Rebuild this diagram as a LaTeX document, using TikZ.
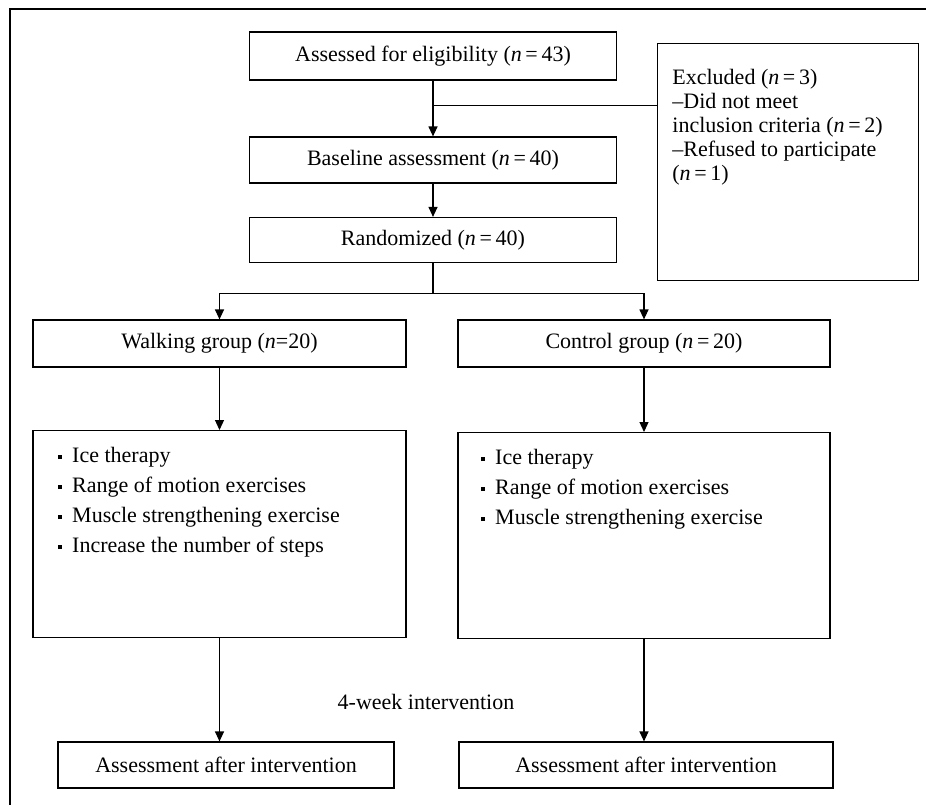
\documentclass[tikz,border=0pt]{standalone}
\usepackage{fontspec}
\setmainfont{Liberation Serif}
\usetikzlibrary{arrows.meta,calc}
\newcommand{\sqbul}{\raisebox{0.35ex}{\rule{2.2pt}{2.2pt}}\hspace{5pt}}
\begin{document}
\begin{tikzpicture}[x=0.5pt,y=-0.5pt,
	box/.style={draw,line width=0.6pt,inner sep=0pt},
	txt/.style={font=\fontsize{11}{12}\selectfont},
	lst/.style={font=\fontsize{11}{15}\selectfont,align=left,anchor=north west,inner sep=0pt},
	arr/.style={line width=0.6pt,-{Triangle[length=5pt,width=4.5pt]}},
	con/.style={line width=0.6pt}]
	\useasboundingbox (0,0) rectangle (926,805);
	\draw[con] (926,9) -- (10,9) -- (10,805);
	% top column
	\node[box,txt,minimum width=183.5pt,minimum height=24pt] (assess) at (433,56) {Assessed for eligibility (\textit{n}\,=\,43)};
	\node[box,txt,minimum width=183.5pt,minimum height=23pt] (base) at (433,160) {Baseline assessment (\textit{n}\,=\,40)};
	\node[box,txt,minimum width=183.5pt,minimum height=22.5pt] (rand) at (433,240) {Randomized (\textit{n}\,=\,40)};
	\node[box,minimum width=130.5pt,minimum height=118.5pt,anchor=north west] (excl) at (657,43) {};
	\node[txt,align=left,anchor=north west,inner sep=0pt] (excltxt) at ([shift={(15,26)}]excl.north west)
		{Excluded (\textit{n}\,=\,3)\\--Did not meet\\inclusion criteria (\textit{n}\,=\,2)\\--Refused to participate\\(\textit{n}\,=\,1)};
	\draw[arr] (assess) -- (base);
	\coordinate (br) at ($(assess.south)!0.44!(base.north)$);
	\draw[con] (br) -- (br -| excl.west);
	\draw[arr] (base) -- (rand);
	% groups
	\node[box,txt,minimum width=186.5pt,minimum height=23.5pt] (walk) at (219.5,343.5) {Walking group (\textit{n}=20)};
	\node[box,txt,minimum width=186pt,minimum height=23.5pt] (ctrl) at (644,343.5) {Control group (\textit{n}\,=\,20)};
	\coordinate (sp) at ($(rand.south)+(0,30)$);
	\draw[con] (rand) -- (sp);
	\draw[arr] (sp) -| (walk);
	\draw[arr] (sp) -| (ctrl);
	% interventions
	\node[box,minimum width=186.5pt,minimum height=103.5pt,anchor=north] (wplan) at (219.5,430) {};
	\node[box,minimum width=186pt,minimum height=103pt,anchor=north] (cplan) at (644,432) {};
	\node[lst] (wlist) at ([shift={(25,17)}]wplan.north west)
		{\sqbul Ice therapy\\\sqbul Range of motion exercises\\\sqbul Muscle strengthening exercise\\\sqbul Increase the number of steps};
	\node[lst] (clist) at ([shift={(23,17)}]cplan.north west)
		{\sqbul Ice therapy\\\sqbul Range of motion exercises\\\sqbul Muscle strengthening exercise};
	\draw[arr] (walk) -- (wplan);
	\draw[arr] (ctrl) -- (cplan);
	% after
	\node[txt] (weeks) at (426,702) {4-week intervention};
	\node[box,txt,minimum width=168pt,minimum height=23pt] (wpost) at (226,765) {Assessment after intervention};
	\node[box,txt,minimum width=187pt,minimum height=23pt] (cpost) at (646,765) {Assessment after intervention};
	\draw[arr] (wplan) -- (wplan.south |- wpost.north);
	\draw[arr] (cplan) -- (cplan.south |- cpost.north);
\end{tikzpicture}
\end{document}
